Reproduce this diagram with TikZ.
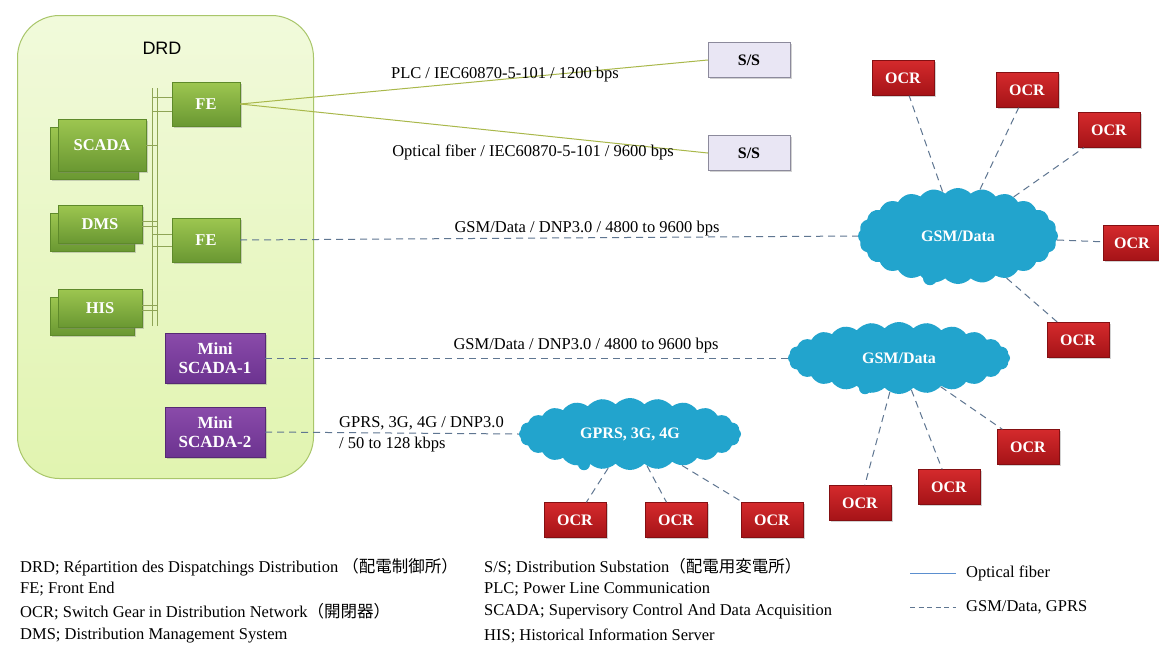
\documentclass[tikz,border=0pt]{standalone}
\usepackage{fontspec}
\setmainfont{Liberation Serif}
\newfontfamily\cjk{Noto Sans CJK JP}
\newfontfamily\arialf{Liberation Sans}
\usetikzlibrary{shapes.symbols,shadows}
\definecolor{drdtop}{HTML}{F1FADB}
\definecolor{drdbot}{HTML}{E1F4B0}
\definecolor{drdline}{HTML}{A9C66A}
\definecolor{gtop}{HTML}{9DC650}
\definecolor{gbot}{HTML}{6A9832}
\definecolor{gline}{HTML}{5E8A2A}
\definecolor{ptop}{HTML}{8A4BAA}
\definecolor{pbot}{HTML}{6C3390}
\definecolor{rtop}{HTML}{D42A2C}
\definecolor{rbot}{HTML}{A51317}
\definecolor{ssfill}{HTML}{E9E6F4}
\definecolor{ssline}{HTML}{8C8A9C}
\definecolor{cloudc}{HTML}{22A4CD}
\definecolor{oline}{HTML}{A9B84A}
\definecolor{busc}{HTML}{8FA556}
\definecolor{dashc}{HTML}{5F7691}
\definecolor{legblue}{HTML}{5B8FCF}
\begin{document}
\begin{tikzpicture}[x=1pt,y=-1pt,
  shade/.style={drop shadow={opacity=0.35,shadow xshift=1.5pt,shadow yshift=-1.5pt}},
  greenbox/.style={shade,draw=gline,top color=gtop,bottom color=gbot,text=white,
    font=\bfseries\fontsize{16.5}{18}\selectfont,inner sep=0pt},
  purplebox/.style={shade,draw=pbot!80!black,top color=ptop,bottom color=pbot,text=white,
    font=\bfseries\fontsize{17}{19}\selectfont,inner sep=0pt,align=center,
    minimum width=100,minimum height=50},
  ocrbox/.style={shade,draw=rbot!80!black,top color=rtop,bottom color=rbot,text=white,
    font=\bfseries\fontsize{16}{18}\selectfont,inner sep=0pt,minimum width=62,minimum height=35},
  ssbox/.style={shade,draw=ssline,fill=ssfill,font=\bfseries\fontsize{16}{18}\selectfont,
    inner sep=0pt,minimum width=82,minimum height=35},
  cloudn/.style={cloud,cloud puffs=24,cloud puff arc=95,cloud ignores aspect,fill=cloudc,
    draw=none,text=white,font=\bfseries\fontsize{16}{18}\selectfont,inner sep=0pt},
  bubble/.style={fill=cloudc},
  optl/.style={draw=oline,line width=1pt},
  gsm/.style={draw=dashc,line width=1pt,dash pattern=on 7pt off 5pt},
  busl/.style={draw=busc,line width=0.8pt},
  lab/.style={font=\fontsize{16.5}{21}\selectfont,inner sep=0pt},
  leg/.style={font=\fontsize{16.5}{19}\selectfont,inner sep=0pt,anchor=west}
]
\useasboundingbox (0,0) rectangle (1159,646);
\fill[white] (0,0) rectangle (1159,646);

% DRD container
\node[draw=drdline,line width=1pt,top color=drdtop,bottom color=drdbot,rounded corners=42pt,
  minimum width=296,minimum height=463,anchor=north west,inner sep=0pt] (drd) at (17,15) {};
\node[font=\arialf\fontsize{18}{20}\selectfont] (drdlabel) at (162,48) {DRD};

% stacked servers
\node[greenbox,minimum width=88,minimum height=52] (scadaB) at (94,153) {};
\node[greenbox,minimum width=88,minimum height=52] (scada) at (102,145) {SCADA};
\node[greenbox,minimum width=84,minimum height=38] (dmsB) at (92,232) {};
\node[greenbox,minimum width=84,minimum height=38] (dms) at (100,224) {DMS};
\node[greenbox,minimum width=84,minimum height=38] (hisB) at (92,316) {};
\node[greenbox,minimum width=84,minimum height=38] (his) at (100,308) {HIS};

% front ends
\node[greenbox,minimum width=68,minimum height=44] (fe1) at (206,104) {FE};
\node[greenbox,minimum width=68,minimum height=44] (fe2) at (206,240) {FE};

% mini scada
\node[purplebox] (mini1) at (215,358) {Mini\\SCADA-1};
\node[purplebox] (mini2) at (215,432) {Mini\\SCADA-2};

% bus
\coordinate (busA) at (152,88);
\coordinate (busB) at (157,88);
\coordinate (busAe) at (152,326);
\coordinate (busBe) at (157,326);
\draw[busl] (busA) -- (busAe);
\draw[busl] (busB) -- (busBe);
\draw[busl] (scada.east) -- (scada.east -| busB);
\draw[busl] ([yshift=2.5pt]dms.east) -- ([yshift=2.5pt]dms.east -| busB);
\draw[busl] ([yshift=-2.5pt]dms.east) -- ([yshift=-2.5pt]dms.east -| busB);
\draw[busl] ([yshift=2.5pt]his.east) -- ([yshift=2.5pt]his.east -| busB);
\draw[busl] ([yshift=-2.5pt]his.east) -- ([yshift=-2.5pt]his.east -| busB);
\draw[busl] ([yshift=7pt]fe1.west) -- ([yshift=7pt]fe1.west -| busA);
\draw[busl] ([yshift=-7pt]fe1.west) -- ([yshift=-7pt]fe1.west -| busA);
\draw[busl] ([yshift=6pt]fe2.west) -- ([yshift=6pt]fe2.west -| busA);
\draw[busl] ([yshift=-6pt]fe2.west) -- ([yshift=-6pt]fe2.west -| busA);

% substations
\node[ssbox] (ss1) at (749,60) {S/S};
\node[ssbox] (ss2) at (749,153) {S/S};
\draw[optl] (fe1.east) -- (ss1.west);
\draw[optl] (fe1.east) -- (ss2.west);
\node[lab] (l1) at (505,75) {PLC / IEC60870-5-101 / 1200 bps};
\node[lab] (l2) at (533,152) {Optical fiber / IEC60870-5-101 / 9600 bps};

% clouds
\node[cloudn,minimum width=200,minimum height=96] (c1) at (958,236) {GSM/Data};
\node[cloudn,minimum width=222,minimum height=72] (c2) at (899,358) {GSM/Data};
\node[cloudn,minimum width=222,minimum height=72] (c3) at (630,434) {GPRS, 3G, 4G};
\fill[bubble] ([xshift=-28pt,yshift=6pt]c1.south) circle (7);
\fill[bubble] ([xshift=-34pt,yshift=6pt]c2.south) circle (6);
\fill[bubble] ([xshift=-46pt,yshift=6pt]c3.south) circle (6);

\draw[gsm] (fe2.east) -- (c1.west);
\draw[gsm] (mini1.east) -- (c2.west);
\draw[gsm] (mini2.east) -- (c3.west);
\node[lab] (l3) at (587,229) {GSM/Data / DNP3.0 / 4800 to 9600 bps};
\node[lab] (l4) at (586,346) {GSM/Data / DNP3.0 / 4800 to 9600 bps};
\node[lab,anchor=north west,align=left] (l5) at (339,416) {GPRS, 3G, 4G / DNP3.0\\/ 50 to 128 kbps};

% OCRs around c1
\node[ocrbox] (oa) at (903,78) {OCR};
\node[ocrbox] (ob) at (1027,90) {OCR};
\node[ocrbox] (oc) at (1109,130) {OCR};
\node[ocrbox,minimum width=58] (od) at (1132,243) {OCR};
\node[ocrbox] (oe) at (1078,340) {OCR};
\draw[gsm] (c1) -- (oa);
\draw[gsm] (c1) -- (ob);
\draw[gsm] (c1) -- (oc);
\draw[gsm] (c1) -- (od);
\draw[gsm] (c1) -- (oe);

% OCRs around c2
\node[ocrbox] (of) at (860,503) {OCR};
\node[ocrbox] (og) at (949,487) {OCR};
\node[ocrbox] (oh) at (1028,447) {OCR};
\draw[gsm] (c2) -- (of);
\draw[gsm] (c2) -- (og);
\draw[gsm] (c2) -- (oh);

% OCRs around c3
\node[ocrbox] (oi) at (575,520) {OCR};
\node[ocrbox] (oj) at (676,520) {OCR};
\node[ocrbox] (ok) at (772,520) {OCR};
\draw[gsm] (c3) -- (oi);
\draw[gsm] (c3) -- (oj);
\draw[gsm] (c3) -- (ok);

% glossary
\node[leg] (g1) at (20,567) {DRD; Répartition des Dispatchings Distribution {\cjk （配電制御所）}};
\node[leg] (g2) at (20,589) {FE; Front End};
\node[leg] (g3) at (20,612) {OCR; Switch Gear in Distribution Network{\cjk （開閉器）}};
\node[leg] (g4) at (20,636) {DMS; Distribution Management System};
\node[leg] (g5) at (484,567) {S/S; Distribution Substation{\cjk （配電用変電所）}};
\node[leg] (g6) at (484,589) {PLC; Power Line Communication};
\node[leg] (g7) at (484,612) {SCADA; Supervisory Control And Data Acquisition};
\node[leg] (g8) at (484,636) {HIS; Historical Information Server};

% line legend
\coordinate (k1a) at (910,573);
\coordinate (k1b) at (956,573);
\coordinate (k2a) at (910,607);
\coordinate (k2b) at (956,607);
\draw[draw=legblue,line width=1pt] (k1a) -- (k1b);
\draw[draw=dashc,line width=0.8pt,dash pattern=on 5pt off 3.5pt] (k2a) -- (k2b);
\node[leg] (k1t) at (966,573) {Optical fiber};
\node[leg] (k2t) at (966,607) {GSM/Data, GPRS};
\end{tikzpicture}
\end{document}
